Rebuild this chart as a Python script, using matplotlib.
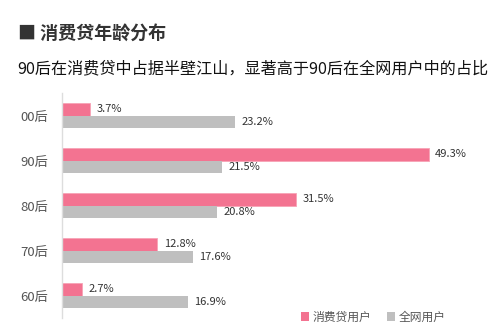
import numpy as np
import matplotlib.pyplot as plt
from matplotlib.patches import Patch

plt.rcParams['font.family'] = ['Noto Sans CJK SC', 'DejaVu Sans']

categories = ["00后", "90后", "80后", "70后", "60后"]
loan_users = [3.7, 49.3, 31.5, 12.8, 2.7]
all_users = [23.2, 21.5, 20.8, 17.6, 16.9]
series_names = ["消费贷用户", "全网用户"]

pink = "#F37391"
gray = "#BFBFBF"

fig = plt.figure(figsize=(5.01, 3.33), dpi=100)
ax = fig.add_axes([62 / 501, 15 / 333, 435 / 501, 225 / 333])

y = np.arange(len(categories))
h = 0.27
ax.barh(y - h / 2, loan_users, height=h, color=pink, edgecolor="#F7A3B6", linewidth=0.6)
ax.barh(y + h / 2, all_users, height=h, color=gray)

for i in range(len(categories)):
    ax.text(loan_users[i] + 0.9, y[i] - h / 2, f"{loan_users[i]}%", va="center",
            ha="left", fontsize=8, color="#333333")
    ax.text(all_users[i] + 0.9, y[i] + h / 2, f"{all_users[i]}%", va="center",
            ha="left", fontsize=8, color="#333333")

ax.set_xlim(0, 58.5)
ax.set_ylim(4.5, -0.5)
ax.set_yticks(y)
ax.set_yticklabels(categories, fontsize=9.5, color="#555555")
ax.tick_params(axis="y", length=0, pad=10)
ax.set_xticks([])
for s in ["top", "right", "bottom"]:
    ax.spines[s].set_visible(False)
ax.spines["left"].set_color("#DDDDDD")
ax.spines["left"].set_linewidth(1)

handles = [Patch(facecolor=pink), Patch(facecolor=gray)]
fig.legend(handles, series_names, loc="center left", bbox_to_anchor=(290 / 501, 1 - 317 / 333),
           ncol=2, frameon=False, fontsize=8.5, handlelength=0.7, handleheight=0.7,
           handletextpad=0.3, columnspacing=1.3, labelcolor="#555555")

fig.text(18 / 501, 1 - 33 / 333, "■ 消费贷年龄分布", fontsize=13, fontweight="bold",
         color="#333333", va="center", ha="left")
fig.text(17 / 501, 1 - 69 / 333, "90后在消费贷中占据半壁江山，显著高于90后在全网用户中的占比",
         fontsize=11.6, color="#111111", va="center", ha="left")

fig.savefig("out.png", dpi=100)
